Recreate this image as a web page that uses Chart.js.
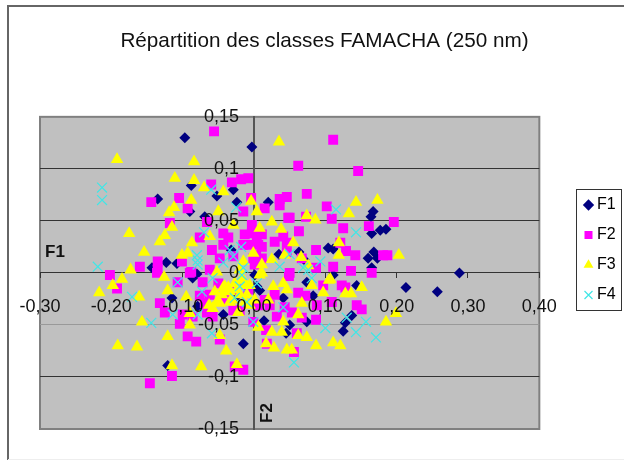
<!DOCTYPE html>
<html><head><meta charset="utf-8">
<style>html,body{margin:0;padding:0;background:#fff}canvas{display:block}</style>
<script src="https://cdn.jsdelivr.net/npm/chart.js@4"></script>
</head><body>
<canvas id="c" width="624" height="460"></canvas>
<script>
const chartTitle = "Répartition des classes FAMACHA (250 nm)";
const seriesNames = ["F1","F2","F3","F4"];
const xTickLabels = ["-0,30","-0,20","-0,10","0,00","0,10","0,20","0,30","0,40"];
const yTickLabels = ["-0,15","-0,1","-0,05","0","0,05","0,1","0,15"];
const f1 = [[-0.097,0.130],[-0.003,0.121],[-0.088,0.084],[-0.029,0.080],[-0.052,0.074],[-0.024,0.068],[0.020,0.068],[-0.135,0.071],[-0.090,0.059],[-0.069,0.054],[-0.123,0.010],[-0.143,0.005],[-0.108,0.009],[0.035,0.018],[-0.032,0.022],[0.288,0.000],[0.167,0.059],[0.164,0.054],[0.165,0.038],[0.177,0.041],[0.185,0.042],[0.104,0.024],[0.111,0.023],[0.168,0.020],[0.160,0.014],[0.173,0.014],[0.165,0.005],[0.111,-0.002],[0.063,0.020],[0.070,0.013],[0.213,-0.014],[0.257,-0.018],[0.144,-0.012],[0.137,-0.041],[0.128,-0.048],[0.125,-0.056],[0.083,-0.022],[0.074,-0.047],[0.045,-0.058],[0.050,-0.050],[0.041,-0.024],[0.074,-0.009],[-0.015,-0.068],[-0.121,-0.089],[-0.079,-0.032],[0.014,-0.046],[-0.043,-0.040],[-0.115,-0.024],[-0.080,-0.001],[-0.086,-0.005],[0.001,-0.002],[0.008,-0.017],[-0.027,-0.024],[0.004,-0.013]];
const f2 = [[-0.056,0.136],[-0.008,0.091],[-0.018,0.090],[-0.031,0.087],[-0.060,0.085],[-0.105,0.072],[-0.144,0.068],[-0.093,0.062],[-0.004,0.072],[-0.015,0.059],[0.036,0.071],[0.015,0.062],[0.036,0.065],[-0.118,0.048],[-0.066,0.049],[-0.043,0.038],[-0.076,0.034],[-0.003,0.038],[0.004,0.035],[0.029,0.030],[-0.059,0.022],[-0.043,0.027],[-0.029,0.016],[-0.015,0.027],[0.011,0.025],[-0.135,0.011],[-0.160,0.006],[-0.202,-0.002],[-0.135,0.003],[-0.101,0.011],[-0.088,0.001],[-0.062,0.003],[0.048,0.053],[0.046,0.029],[0.111,0.128],[0.146,0.098],[0.062,0.103],[0.074,0.076],[0.046,0.073],[0.102,0.064],[0.109,0.052],[0.050,0.053],[0.073,0.054],[0.125,0.043],[0.161,0.045],[0.196,0.049],[0.063,0.040],[0.041,0.035],[0.087,0.022],[0.121,0.029],[0.129,0.021],[0.142,0.017],[0.181,0.017],[0.187,0.017],[0.111,0.006],[0.136,0.002],[0.165,0.000],[0.087,0.005],[0.046,0.020],[0.067,0.014],[0.050,0.000],[-0.192,-0.015],[-0.136,0.000],[-0.132,-0.029],[-0.125,-0.038],[-0.107,-0.009],[-0.072,-0.009],[-0.104,-0.049],[-0.100,-0.040],[-0.093,-0.061],[-0.081,-0.066],[-0.048,-0.064],[-0.069,-0.029],[-0.029,-0.036],[-0.001,-0.047],[-0.015,-0.093],[-0.027,-0.090],[-0.115,-0.099],[-0.146,-0.106],[0.017,-0.055],[0.018,-0.068],[0.032,-0.042],[-0.090,0.000],[-0.050,-0.010],[-0.066,-0.038],[-0.086,-0.042],[-0.058,-0.042],[0.060,-0.058],[0.056,-0.076],[0.087,-0.045],[0.144,-0.031],[0.151,-0.035],[0.123,-0.012],[0.128,-0.014],[0.097,-0.012],[0.062,-0.019],[0.072,-0.022],[0.088,-0.031],[0.043,-0.033],[0.053,-0.038],[0.067,-0.043],[0.109,-0.028],[-0.048,0.014],[0.001,0.008],[-0.001,0.014],[0.049,-0.003],[-0.036,0.034],[-0.003,0.046],[0.006,0.027],[-0.006,0.027],[0.011,0.037],[0.003,0.017],[0.011,0.014],[-0.013,0.037],[-0.025,-0.016],[-0.008,-0.016],[0.015,-0.026],[0.022,-0.031],[0.006,-0.031],[0.029,-0.021],[-0.062,-0.021],[-0.076,-0.022],[-0.020,-0.036],[-0.041,-0.026]];
const f3 = [[-0.192,0.109],[-0.084,0.107],[0.035,0.126],[-0.111,0.091],[-0.084,0.089],[-0.070,0.082],[-0.043,0.078],[-0.004,0.069],[-0.088,0.070],[-0.112,0.063],[-0.119,0.058],[-0.115,0.044],[0.004,0.059],[0.025,0.049],[0.008,0.043],[0.038,0.042],[-0.175,0.038],[-0.125,0.036],[-0.132,0.030],[-0.154,0.020],[-0.087,0.029],[-0.062,0.035],[-0.101,0.017],[-0.093,0.019],[-0.001,0.019],[0.025,0.013],[-0.015,0.011],[0.011,0.008],[-0.173,0.003],[-0.050,0.059],[-0.029,0.046],[0.143,0.068],[0.173,0.070],[0.133,0.057],[0.074,0.055],[0.086,0.051],[0.055,0.029],[0.119,0.029],[0.119,0.017],[0.203,0.017],[0.066,0.015],[0.043,0.017],[0.076,0.007],[-0.217,-0.019],[-0.198,-0.012],[-0.185,-0.006],[-0.161,-0.023],[-0.126,-0.004],[-0.121,-0.017],[-0.157,-0.047],[-0.121,-0.061],[-0.191,-0.070],[-0.164,-0.071],[-0.115,-0.089],[-0.074,-0.090],[-0.024,-0.088],[-0.039,-0.075],[-0.048,-0.060],[-0.090,-0.050],[-0.090,-0.039],[-0.095,-0.023],[-0.063,-0.031],[-0.058,-0.034],[-0.041,-0.013],[-0.036,-0.014],[-0.055,-0.018],[-0.022,-0.038],[0.006,-0.052],[0.025,-0.057],[0.039,-0.057],[0.017,-0.068],[0.028,-0.072],[0.046,-0.074],[0.008,-0.002],[0.027,-0.013],[-0.015,-0.007],[-0.010,-0.021],[-0.034,-0.028],[-0.048,-0.029],[0.041,-0.047],[0.185,-0.047],[0.199,-0.039],[0.151,-0.014],[0.136,-0.020],[0.128,-0.020],[0.097,-0.019],[0.107,-0.006],[0.081,-0.012],[0.067,-0.029],[0.062,-0.040],[0.074,-0.062],[0.087,-0.070],[0.111,-0.067],[0.121,-0.070],[0.062,-0.060],[0.053,-0.074],[0.041,-0.010],[-0.052,0.001],[-0.017,-0.005],[-0.038,-0.016],[-0.024,-0.016],[0.011,0.000],[0.046,-0.016],[0.105,-0.007],[-0.043,-0.014],[-0.034,-0.018],[-0.013,-0.028],[-0.052,-0.028],[-0.027,-0.010],[-0.031,-0.026],[-0.020,-0.021],[-0.006,-0.012],[-0.006,-0.031],[-0.045,-0.021],[0.020,-0.026],[-0.020,0.003],[-0.013,-0.012],[0.001,-0.026]];
const f4 = [[-0.213,0.082],[-0.213,0.070],[-0.219,0.006],[-0.060,0.080],[-0.025,0.063],[-0.070,0.039],[-0.080,0.017],[-0.079,0.012],[-0.079,0.008],[-0.034,0.022],[-0.018,0.025],[-0.029,0.016],[-0.043,0.010],[0.036,0.006],[-0.015,0.005],[0.115,0.061],[0.143,0.039],[0.093,0.011],[0.050,0.018],[0.069,0.005],[0.076,0.003],[-0.171,-0.023],[-0.144,-0.048],[-0.107,-0.009],[-0.073,-0.018],[-0.114,-0.040],[-0.079,-0.040],[-0.059,-0.058],[-0.001,-0.047],[-0.058,-0.005],[-0.017,-0.002],[-0.020,-0.013],[-0.027,-0.024],[-0.010,-0.028],[0.004,-0.010],[0.041,-0.033],[0.100,-0.053],[0.130,-0.043],[0.143,-0.057],[0.157,-0.047],[0.171,-0.062],[0.056,-0.086],[0.081,-0.005]];

const toPts = a => a.map(p => ({x:p[0], y:p[1]}));
const FONT = '"Liberation Sans", Arial, sans-serif';
const Y_LABEL_GAP = '\u00a0\u00a0\u00a0';

const decor = {
  id:'decor',
  afterLayout(ch){
    const L = ch.legend, T = ch.titleBlock;
    const w = L.right - L.left;
    L.left = 574; L.right = 574 + w; L.top = 183;
    T.left += 9; T.right += 9;
  },
  beforeDraw(ch){
    const c = ch.ctx, a = ch.chartArea;
    c.save();
    c.fillStyle = '#fff'; c.fillRect(0,0,624,460);
    c.strokeStyle = '#666'; c.lineWidth = 2;
    c.beginPath(); c.moveTo(8,460); c.lineTo(8,6); c.lineTo(624,6); c.stroke();
    c.strokeStyle = '#eee'; c.lineWidth = 1;
    c.beginPath(); c.moveTo(8,459.5); c.lineTo(624,459.5); c.stroke();
    c.fillStyle = '#C0C0C0'; c.fillRect(a.left,a.top,a.right-a.left,a.bottom-a.top);
    c.strokeStyle = '#808080'; c.lineWidth = 2;
    c.strokeRect(a.left,a.top,a.right-a.left,a.bottom-a.top);
    c.strokeStyle = '#333'; c.lineWidth = 1;
    c.strokeRect(576.5,189.5,45,121);
    c.restore();
  },
  afterDraw(ch){
    const c = ch.ctx;
    c.save();
    c.fillStyle = '#111'; c.font = 'bold 17px '+FONT;
    c.textAlign = 'left'; c.textBaseline = 'middle';
    c.fillText('F1', 45, 252);
    c.translate(267, 413); c.rotate(-Math.PI/2);
    c.textAlign = 'center';
    c.fillText('F2', 0, 0);
    c.restore();
  }
};

new Chart(document.getElementById('c'), {
  type:'scatter',
  data:{datasets:[
    {label:seriesNames[0],data:toPts(f1),order:4,pointStyle:'rectRot',pointRadius:5.5,backgroundColor:'#000080',borderColor:'#000080',borderWidth:0},
    {label:seriesNames[1],data:toPts(f2),order:3,pointStyle:'rect',pointRadius:7,backgroundColor:'#FF00FF',borderColor:'#FF00FF',borderWidth:0},
    {label:seriesNames[2],data:toPts(f3),order:2,pointStyle:'triangle',pointRadius:7.2,backgroundColor:'#FFFF00',borderColor:'#FFFF00',borderWidth:0},
    {label:seriesNames[3],data:toPts(f4),order:1,pointStyle:'crossRot',pointRadius:7,backgroundColor:'#40E6E6',borderColor:'#40E6E6',borderWidth:1.2}
  ]},
  plugins:[decor],
  options:{
    responsive:false, animation:false, devicePixelRatio:1,
    layout:{padding:{left:40,right:33,top:5,bottom:31}},
    plugins:{
      tooltip:{enabled:false},
      title:{display:true,text:chartTitle,color:'#111',font:{family:FONT,size:20.7,weight:'normal'},padding:{top:24,bottom:63}},
      legend:{display:true,position:'right',align:'start',
        labels:{usePointStyle:true,boxWidth:1,boxHeight:8,padding:14,color:'#000',font:{family:FONT,size:16},
          sort:(a,b)=>a.datasetIndex-b.datasetIndex}}
    },
    scales:{
      x:{type:'linear',min:-0.30,max:0.40,position:{y:0},
        grid:{drawOnChartArea:false,drawTicks:true,tickLength:5,color:'#333'},
        border:{color:'#333',width:1},
        ticks:{z:1,stepSize:0.1,color:'#111',padding:18,maxRotation:0,autoSkip:false,
          font:{family:FONT,size:18},callback:(v,i)=>xTickLabels[i]}},
      y:{type:'linear',min:-0.15,max:0.15,position:{x:0},
        grid:{drawTicks:true,tickLength:5,
          color:c=>Math.abs(c.tick.value+0.05)<1e-6?'#999':(Math.abs(Math.abs(c.tick.value)-0.15)<1e-6?'#808080':'#333')},
        border:{color:'#555',width:2},
        ticks:{z:1,stepSize:0.05,color:'#111',padding:12,autoSkip:false,
          font:{family:FONT,size:18},callback:(v,i)=>yTickLabels[i]+Y_LABEL_GAP}}
    }
  }
});
</script>
</body></html>
